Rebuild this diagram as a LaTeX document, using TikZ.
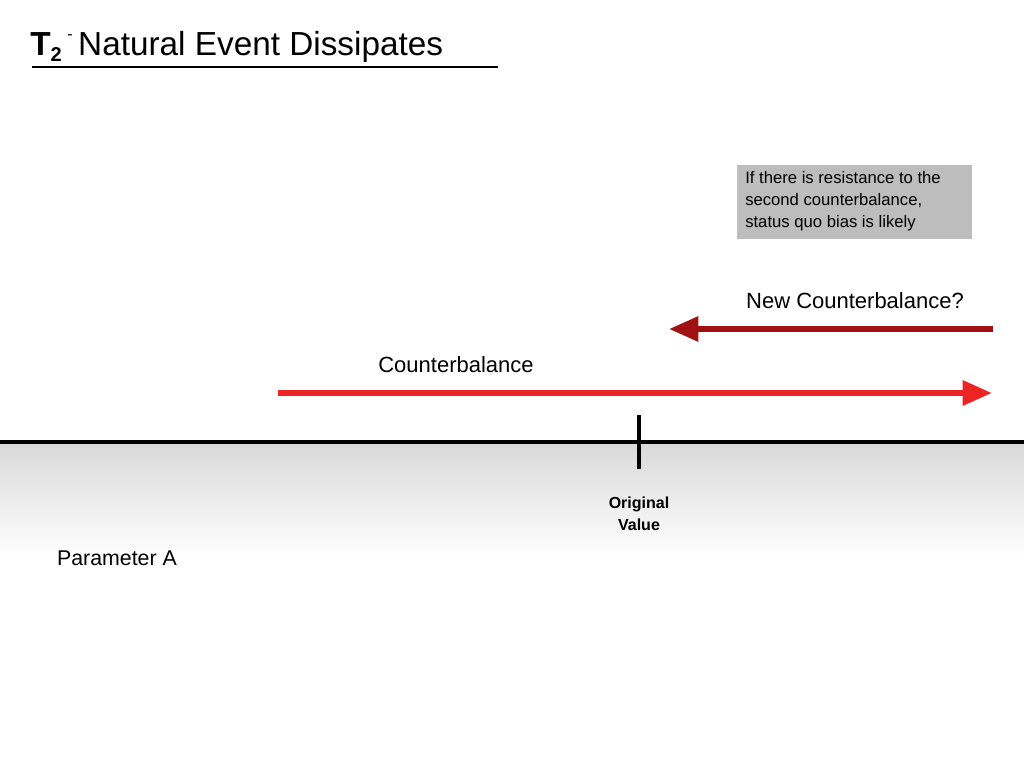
\documentclass[tikz,border=0pt]{standalone}
\usepackage{fontspec}
\setmainfont{Liberation Sans}
\usetikzlibrary{arrows.meta}
\definecolor{lred}{HTML}{EC2424}
\definecolor{dred}{HTML}{A01212}
\definecolor{boxg}{HTML}{BDBDBD}
\begin{document}
\begin{tikzpicture}[x=0.75pt,y=-0.75pt,
  lbl/.style={inner sep=0pt,font=\fontsize{16.5}{19}\selectfont},
  arr/.style={line width=4.5pt,-{Triangle[length=22pt,width=18pt]}}]
\useasboundingbox (0,0) rectangle (1024,768);
\shade[top color=black!15,bottom color=white] (0,442) rectangle (1024,558);
\node[anchor=base west,inner sep=0pt,font=\fontsize{25}{28}\selectfont] (title) at (30,55)
  {\textbf{T}\raisebox{-0.35ex}{\fontsize{15}{16}\selectfont\textbf{2}}\,\raisebox{0.9ex}{\fontsize{12}{12}\selectfont -}\,Natural Event Dissipates};
\coordinate (u1) at (32,67); \coordinate (u2) at (498,67);
\draw[line width=1pt] (u1) -- (u2);
\coordinate (a1) at (0,442); \coordinate (a2) at (1024,442);
\draw[line width=3pt] (a1) -- (a2);
\coordinate (t1) at (639,415); \coordinate (t2) at (639,469);
\draw[line width=3pt] (t1) -- (t2);
\coordinate (r1) at (278,393); \coordinate (r2) at (992,393);
\draw[arr,lred] (r1) -- (r2);
\coordinate (d1) at (993,329); \coordinate (d2) at (669,329);
\draw[arr,dred] (d1) -- (d2);
\node[lbl] (cb) at (456,365) {Counterbalance};
\node[lbl] (ncb) at (855,301) {New Counterbalance?};
\node[fill=boxg,anchor=north west,minimum width=176pt,minimum height=55pt,inner sep=0pt] (box) at (737,165) {};
\node[anchor=north west,align=left,inner sep=0pt,font=\fontsize{12.5}{16.5}\selectfont] (boxt) at (745,171)
  {If there is resistance to the\\second counterbalance,\\status quo bias is likely};
\node[align=center,inner sep=0pt,font=\bfseries\fontsize{12}{16.5}\selectfont] (ov) at (639,514) {Original\\Value};
\node[lbl,font=\fontsize{16}{19}\selectfont] (pa) at (117,558) {Parameter A};
\end{tikzpicture}
\end{document}
